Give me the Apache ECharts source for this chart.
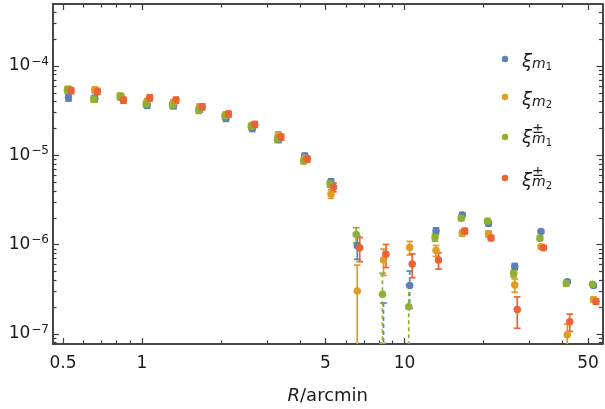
<!DOCTYPE html>
<html><head><meta charset="utf-8">
<script src="https://cdn.jsdelivr.net/npm/echarts@6/dist/echarts.min.js"></script>
<style>html,body{margin:0;padding:0;background:#fff}#c{width:605px;height:409px}</style>
</head><body><div id="c"></div>
<script>
// ---- data ----
const R       = [0.525, 0.661, 0.832, 1.047, 1.319, 1.660, 2.090, 2.631, 3.312, 4.170, 5.250, 6.609, 8.321, 10.47, 13.19, 16.60, 20.90, 26.31, 33.12, 41.70, 52.50];
const R_green = [0.520, 0.655, 0.825, 1.038, 1.307, 1.645, 2.071, 2.607, 3.282, 4.132, 5.203, 6.550, 8.246, 10.38, 13.07, 16.45, 20.71, 26.07, 32.82, 41.32, 52.03];
const R_red   = [0.537, 0.676, 0.850, 1.070, 1.348, 1.697, 2.136, 2.689, 3.385, 4.262, 5.366, 6.754, 8.504, 10.70, 13.48, 16.97, 21.36, 26.89, 33.85, 42.62, 53.66];

// negative values are drawn as |value| with dashed error bars
const xi_m1     = [4.4e-5, 4.35e-5, 4.5e-5, 3.65e-5, 3.6e-5, 3.3e-5, 2.6e-5, 2.0e-5, 1.5e-5, 9.8e-6, 5.0e-6, 9.7e-7, -5e-8, -3.5e-7, 1.42e-6, 2.15e-6, 1.73e-6, 5.7e-7, 1.40e-6, 3.85e-7, 3.49e-7];
const xi_m1_err = [3.5e-6, 3.4e-6, 3.5e-6, 2.9e-6, 2.8e-6, 2.5e-6, 2.0e-6, 1.5e-6, 1.1e-6, 7.5e-7, 4.5e-7, 2.85e-7, 1.72e-7, 1.56e-7, 1.2e-7, 1.3e-7, 1.0e-7, 4.5e-8, 6.0e-8, 1.8e-8, 1.5e-8];

const xi_m2     = [5.5e-5, 5.4e-5, 4.5e-5, 4.0e-5, 3.9e-5, 3.5e-5, 2.85e-5, 2.15e-5, 1.7e-5, 9.3e-6, 3.7e-6, 3.03e-7, 6.73e-7, 9.27e-7, 8.6e-7, 1.35e-6, 1.32e-6, 3.53e-7, 9.5e-7, 9.8e-8, 2.44e-7];
const xi_m2_err = [4.2e-6, 4.2e-6, 3.5e-6, 3.1e-6, 3.0e-6, 2.7e-6, 2.2e-6, 1.7e-6, 1.3e-6, 7.5e-7, 4.0e-7, 2.88e-7, 2.2e-7, 1.6e-7, 1.2e-7, 1.0e-7, 1.0e-7, 6.0e-8, 5.0e-8, 3.1e-8, 1.5e-8];

const xipm_m1     = [5.4e-5, 4.27e-5, 4.6e-5, 3.75e-5, 3.65e-5, 3.2e-5, 2.75e-5, 2.1e-5, 1.52e-5, 8.7e-6, 4.8e-6, 1.30e-6, -2.79e-7, -2.02e-7, 1.2e-6, 1.97e-6, 1.84e-6, 4.75e-7, 1.18e-6, 3.67e-7, 3.6e-7];
const xipm_m1_err = [4.2e-6, 3.4e-6, 3.6e-6, 2.9e-6, 2.8e-6, 2.5e-6, 2.1e-6, 1.6e-6, 1.2e-6, 6.8e-7, 4.0e-7, 2.5e-7, 2.0e-7, 1.5e-7, 1.1e-7, 1.1e-7, 1.0e-7, 4.0e-8, 7.0e-8, 2.0e-8, 1.5e-8];

const xipm_m2     = [5.3e-5, 5.2e-5, 4.15e-5, 4.4e-5, 4.15e-5, 3.5e-5, 2.9e-5, 2.22e-5, 1.6e-5, 9.1e-6, 4.4e-6, 9.25e-7, 7.8e-7, 6.07e-7, 6.73e-7, 1.42e-6, 1.19e-6, 1.88e-7, 9.25e-7, 1.37e-7, 2.31e-7];
const xipm_m2_err = [4.1e-6, 4.0e-6, 3.2e-6, 3.4e-6, 3.2e-6, 2.7e-6, 2.2e-6, 1.7e-6, 1.2e-6, 7.0e-7, 5.0e-7, 2.8e-7, 2.25e-7, 1.8e-7, 1.4e-7, 1.0e-7, 8.0e-8, 7.2e-8, 5.0e-8, 3.0e-8, 1.5e-8];

const xTickLabels = [0.5, 1, 5, 10, 50];
const yTickExps = [-7, -6, -5, -4];
const xRange = [0.4583, 56.8];
const yRange = [7.73e-8, 4.94e-4];

// ---- build ----
const L = Math.log10;
const xMin = L(xRange[0]), xMax = L(xRange[1]);
const yMin = L(yRange[0]), yMax = L(yRange[1]);
const FRAME = '#3d3d3d';
const TXT = '#1a1a1a';
const FONT = '"DejaVu Sans", "Liberation Sans", sans-serif';

const xMajor = xTickLabels.map(L);
const xMinor = [];
for (let d = -1; d <= 1; d++) for (let k = 1; k <= 9; k++) {
  const v = L(k * Math.pow(10, d));
  if (v > xMin && v < xMax && !xMajor.some(m => Math.abs(m - v) < 1e-9)) xMinor.push(v);
}
const yMajor = yTickExps.slice();
const yMinor = [];
for (let d = -8; d <= -4; d++) for (let k = 2; k <= 9; k++) {
  const v = L(k * Math.pow(10, d));
  if (v > yMin && v < yMax) yMinor.push(v);
}

function xAx(pos, ticks, len, withLabel) {
  const a = {
    type: 'value', position: pos, min: xMin, max: xMax,
    axisLine: { show: true, onZero: false, lineStyle: { color: FRAME, width: 1.5 } },
    axisTick: { show: true, inside: true, length: len, customValues: ticks, lineStyle: { color: FRAME, width: 1.2 } },
    axisLabel: { show: false },
    splitLine: { show: false }
  };
  if (withLabel) {
    a.axisLabel = {
      show: true, customValues: xMajor, margin: 11, color: TXT, fontSize: 17, fontFamily: FONT,
      formatter: v => { let best = xTickLabels[0]; xTickLabels.forEach(t => { if (Math.abs(L(t) - v) < Math.abs(L(best) - v)) best = t; }); return String(best); }
    };
    a.name = '{i|R}/arcmin';
    a.nameLocation = 'middle';
    a.nameGap = 43;
    a.nameTextStyle = { color: TXT, fontSize: 18, fontFamily: FONT, rich: { i: { fontStyle: 'italic', fontSize: 18, fontFamily: FONT, color: TXT } } };
  }
  return a;
}
function yAx(pos, ticks, len, withLabel) {
  const a = {
    type: 'value', position: pos, min: yMin, max: yMax,
    axisLine: { show: true, onZero: false, lineStyle: { color: FRAME, width: 1.5 } },
    axisTick: { show: true, inside: true, length: len, customValues: ticks, lineStyle: { color: FRAME, width: 1.2 } },
    axisLabel: { show: false },
    splitLine: { show: false }
  };
  if (withLabel) {
    a.axisLabel = {
      show: true, customValues: yMajor, margin: 4, color: TXT, fontFamily: FONT,
      formatter: v => '{b|10}{s|\u2212' + Math.abs(Math.round(v)) + '}',
      rich: {
        b: { fontSize: 17, fontFamily: FONT, color: TXT },
        s: { fontSize: 12, fontFamily: FONT, color: TXT, padding: [0, 0, 9, 1] }
      }
    };
  }
  return a;
}

const seriesDefs = [
  { name: 'xi_m1',   x: R,       v: xi_m1,   e: xi_m1_err,   color: '#5E81B5' },
  { name: 'xi_m2',   x: R,       v: xi_m2,   e: xi_m2_err,   color: '#E19C24' },
  { name: 'xipm_m1', x: R_green, v: xipm_m1, e: xipm_m1_err, color: '#8FB032' },
  { name: 'xipm_m2', x: R_red,   v: xipm_m2, e: xipm_m2_err, color: '#EB6235' }
];

function errRender(color) {
  return function (params, api) {
    const cs = params.coordSys;
    const x = api.value(0), lo = api.value(1), hi = api.value(2), dashed = api.value(3) === 1;
    const pT = api.coord([x, hi]), pB = api.coord([x, lo]);
    const top = cs.y, bot = cs.y + cs.height;
    const y1 = Math.max(pT[1], top), y2 = Math.min(pB[1], bot);
    const cx = pT[0], hw = 3.3;
    const ch = [];
    if (y2 > y1) ch.push({ type: 'line', shape: { x1: cx, y1: y1, x2: cx, y2: y2 }, style: { stroke: color, lineWidth: 1.7, lineDash: dashed ? [4, 3] : null } });
    if (pT[1] >= top && pT[1] <= bot) ch.push({ type: 'line', shape: { x1: cx - hw, y1: pT[1], x2: cx + hw, y2: pT[1] }, style: { stroke: color, lineWidth: 1.7 } });
    if (pB[1] <= bot && pB[1] >= top) ch.push({ type: 'line', shape: { x1: cx - hw, y1: pB[1], x2: cx + hw, y2: pB[1] }, style: { stroke: color, lineWidth: 1.7 } });
    return { type: 'group', children: ch };
  };
}

const series = [];
seriesDefs.forEach(s => {
  const errData = s.x.map((r, i) => {
    const a = Math.abs(s.v[i]), e = s.e[i];
    const lo = a - e > 0 ? L(a - e) : yMin - 1;
    return [L(r), lo, L(a + e), s.v[i] < 0 ? 1 : 0];
  });
  const ptData = s.x.map((r, i) => [L(r), L(Math.abs(s.v[i]))]);
  series.push({
    type: 'custom', name: s.name + '_err', renderItem: errRender(s.color), data: errData,
    encode: { x: 0, y: [1, 2] }, clip: true, silent: true
  });
  series.push({
    type: 'scatter', name: s.name, data: ptData, symbol: 'circle', symbolSize: 7.5,
    itemStyle: { color: s.color, opacity: 1 }, clip: true, silent: true
  });
});

// legend (drawn as graphic so the stacked super/subscripts can be laid out)
const legRich = {
  x: { fontSize: 18, fontStyle: 'italic', fontFamily: FONT, color: TXT, lineHeight: 12 },
  m: { fontSize: 14, fontStyle: 'italic', fontFamily: FONT, color: TXT, lineHeight: 12, padding: [3, 0, 0, 0] },
  n: { fontSize: 10, fontFamily: FONT, color: TXT, lineHeight: 8, padding: [10, 0, 0, 0] },
  x2: { fontSize: 18, fontStyle: 'italic', fontFamily: FONT, color: TXT, lineHeight: 12, padding: [4, 0, 0, 0] },
  m2: { fontSize: 14, fontStyle: 'italic', fontFamily: FONT, color: TXT, lineHeight: 12, padding: [7, 0, 0, 0] },
  n2: { fontSize: 10, fontFamily: FONT, color: TXT, lineHeight: 8, padding: [14, 0, 0, 0] },
  sp: { fontSize: 12, fontFamily: FONT, width: 10, lineHeight: 1 },
  pm: { fontSize: 14, fontFamily: FONT, color: TXT, lineHeight: 1 }
};
const legendItems = [
  { text: '{x|ξ}{m|m}{n|1}', color: '#5E81B5', my: 59, ty: 62.5 },
  { text: '{x|ξ}{m|m}{n|2}', color: '#E19C24', my: 97, ty: 100.5 },
  { text: '{sp| }{pm|±}\n{x2|ξ}{m2|m}{n2|1}', color: '#8FB032', my: 137, ty: 135.5 },
  { text: '{sp| }{pm|±}\n{x2|ξ}{m2|m}{n2|2}', color: '#EB6235', my: 178, ty: 178.5 }
];
const graphic = [];
legendItems.forEach(it => {
  graphic.push({ type: 'circle', shape: { cx: 505, cy: it.my, r: 3.2 }, style: { fill: it.color }, silent: true });
  graphic.push({ type: 'text', x: 522, y: it.ty, style: { text: it.text, rich: legRich, align: 'left', verticalAlign: 'middle', fill: TXT }, silent: true });
});

const chart = echarts.init(document.getElementById('c'), null, { renderer: 'canvas' });
chart.setOption({
  animation: false,
  backgroundColor: '#fff',
  grid: { left: 53, right: 2.5, top: 4, bottom: 65, containLabel: false, outerBoundsMode: 'none' },
  xAxis: [xAx('bottom', xMajor, 6, true), xAx('bottom', xMinor, 3.5, false), xAx('top', xMajor, 6, false), xAx('top', xMinor, 3.5, false)],
  yAxis: [yAx('left', yMajor, 6, true), yAx('left', yMinor, 3.5, false), yAx('right', yMajor, 6, false), yAx('right', yMinor, 3.5, false)],
  series: series,
  graphic: graphic
});
</script></body></html>
